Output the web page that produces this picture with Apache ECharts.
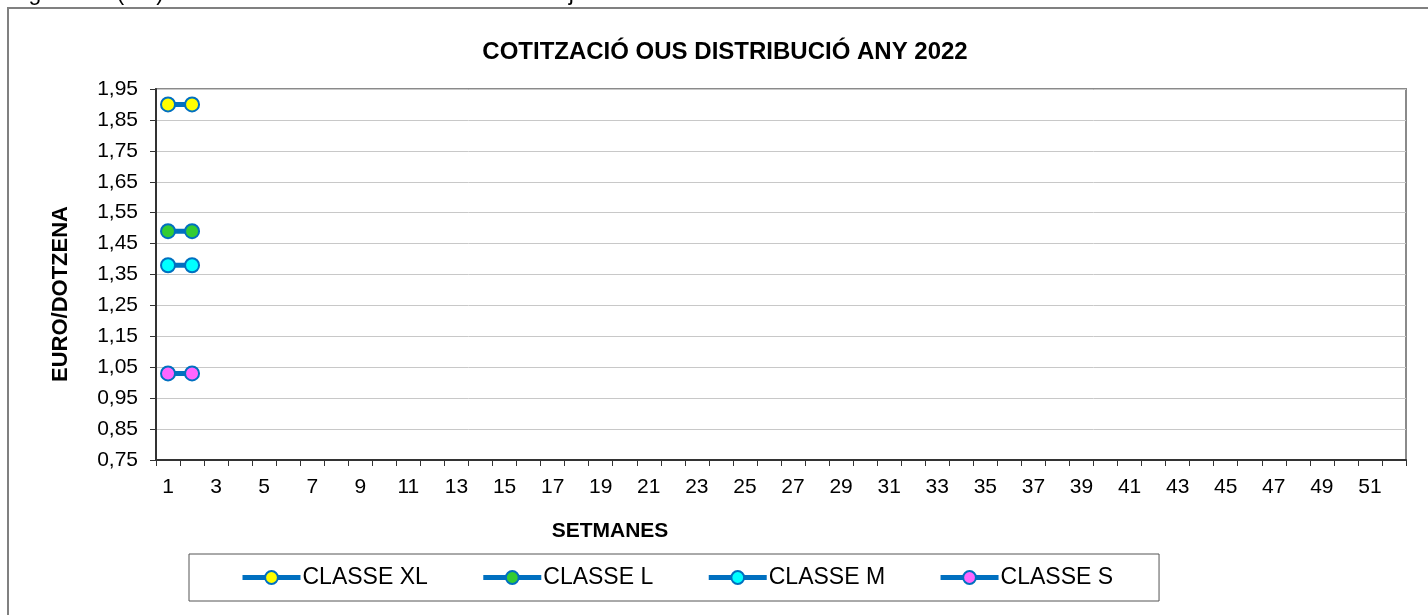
<!DOCTYPE html>
<html lang="ca">
<head>
    <meta charset="UTF-8">
    <title>Cotització ous distribució 2022</title>
    <script src="https://cdn.jsdelivr.net/npm/echarts@6/dist/echarts.min.js"></script>
    <style>
        html, body { margin: 0; padding: 0; background: #fff; }
        #chart { width: 1428px; height: 615px; }
    </style>
</head>
<body>
<div id="chart"></div>
<script>
    // setmanes 1..52
    var setmanes = ['1','2','3','4','5','6','7','8','9','10','11','12','13','14','15','16','17','18','19','20',
        '21','22','23','24','25','26','27','28','29','30','31','32','33','34','35','36','37','38','39','40',
        '41','42','43','44','45','46','47','48','49','50','51','52'];
    var classeXL = [1.90, 1.90];
    var classeL = [1.49, 1.49];
    var classeM = [1.38, 1.38];
    var classeS = [1.03, 1.03];
    var noms = ['CLASSE XL', 'CLASSE L', 'CLASSE M', 'CLASSE S'];
    var colorsPunt = ['#FFFF00', '#33CC33', '#00FFFF', '#FF66FF'];

    var font = '"Liberation Sans", Arial, sans-serif';
    var blau = '#0070C0';

    function serie(nom, dades, color) {
        return {
            name: nom,
            type: 'line',
            data: dades,
            symbol: 'circle',
            symbolSize: 14,
            lineStyle: { color: blau, width: 5 },
            itemStyle: { color: color, borderColor: blau, borderWidth: 2 },
            emphasis: { disabled: true },
            animation: false
        };
    }

    var chart = echarts.init(document.getElementById('chart'));
    var option = {
        backgroundColor: '#fff',
        animation: false,
        title: {
            text: 'COTITZACIÓ OUS DISTRIBUCIÓ ANY 2022',
            left: 720,
            textAlign: 'center',
            top: 35,
            textStyle: { fontFamily: font, fontSize: 24, fontWeight: 'bold', color: '#000' }
        },
        graphic: [
            {
                type: 'text',
                left: -1,
                top: -18,
                style: { text: 'Reglament (CE) núm. 1511/96 de la Comissió de 29 de juliol de 1997', font: '23px ' + font, fill: '#000' }
            },
            {
                type: 'rect',
                shape: { x: 8, y: 8, width: 1440, height: 640 },
                style: { fill: 'none', stroke: '#808080', lineWidth: 2 }
            },
            {
                type: 'text',
                x: 61, y: 294,
                rotation: Math.PI / 2,
                style: { text: 'EURO/DOTZENA', font: 'bold 22px ' + font, fill: '#000', align: 'center', verticalAlign: 'middle' }
            },
            {
                type: 'text',
                x: 610, y: 531,
                style: { text: 'SETMANES', font: 'bold 21px ' + font, fill: '#000', align: 'center', verticalAlign: 'middle' }
            }
        ],
        legend: {
            data: noms,
            left: 189,
            top: 554,
            padding: [12, 46, 12, 51],
            itemGap: 53,
            itemWidth: 58,
            itemHeight: 16,
            borderColor: '#555',
            borderWidth: 1,
            lineStyle: { width: 5, color: blau },
            itemStyle: { borderColor: blau, borderWidth: 2 },
            textStyle: { fontFamily: font, fontSize: 23, color: '#000', padding: [0, 0, 0, -3] }
        },
        grid: {
            left: 156,
            top: 89,
            right: 22,
            bottom: 155,
            show: true,
            borderColor: '#8a8a8a',
            borderWidth: 2,
            containLabel: false
        },
        xAxis: {
            type: 'category',
            data: setmanes,
            boundaryGap: true,
            axisLine: { lineStyle: { color: '#333', width: 2 } },
            axisTick: { show: true, interval: 0, length: 6, lineStyle: { color: '#333' } },
            axisLabel: { interval: 1, margin: 17, color: '#000', fontFamily: font, fontSize: 21 },
            splitLine: { show: false }
        },
        yAxis: {
            type: 'value',
            min: 0.75,
            max: 1.95,
            interval: 0.1,
            axisLine: { show: true, lineStyle: { color: '#333', width: 2 } },
            axisTick: { show: true, length: 6, lineStyle: { color: '#333' } },
            axisLabel: {
                margin: 18, color: '#000', fontFamily: font, fontSize: 21,
                formatter: function (v) { return v.toFixed(2).replace('.', ','); }
            },
            splitLine: { show: true, lineStyle: { color: '#c8c8c8', width: 1 } }
        },
        series: [
            serie(noms[0], classeXL, colorsPunt[0]),
            serie(noms[1], classeL, colorsPunt[1]),
            serie(noms[2], classeM, colorsPunt[2]),
            serie(noms[3], classeS, colorsPunt[3])
        ]
    };
    chart.setOption(option);
</script>
</body>
</html>
